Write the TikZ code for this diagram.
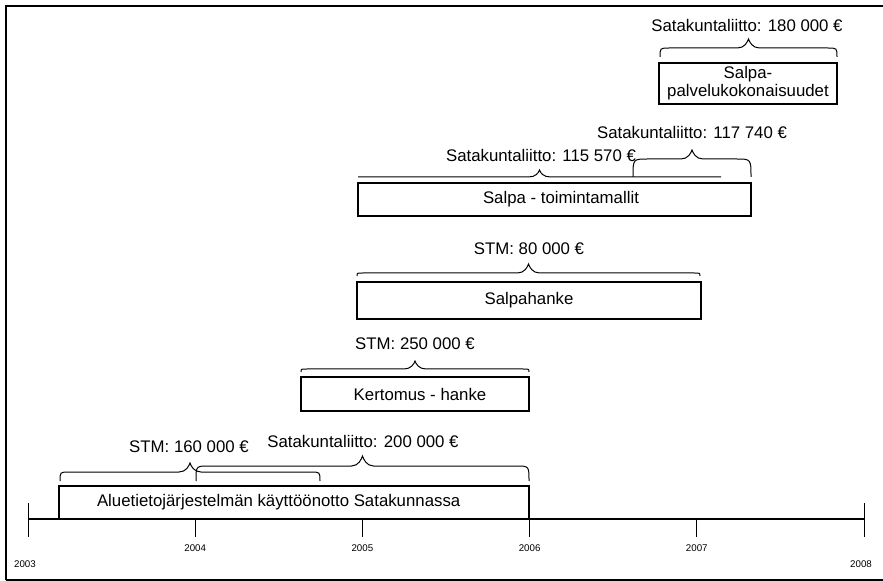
\documentclass[tikz,border=0pt]{standalone}
\usepackage{fontspec}
\setmainfont{Liberation Sans}
% curly brace: x1, x2, y of the ends, y of the bar, y of the tip
\newcommand{\sulkeet}[5]{%
  \pgfmathsetmacro{\sxm}{(#1+#2)/2}%
  \pgfmathsetmacro{\srr}{0.6*(#3-#4)+4}%
  \draw[sulku] (#1,#3) .. controls (#1,#4) .. ({#1+\srr},#4) -- ({\sxm-11},#4)
    .. controls ({\sxm-4},#4) and ({\sxm-1},{#5+3}) .. (\sxm,#5)
    .. controls ({\sxm+1},{#5+3}) and ({\sxm+4},#4) .. ({\sxm+11},#4)
    -- ({#2-\srr},#4) .. controls (#2,#4) .. (#2,#3);}

\begin{document}
\begin{tikzpicture}[x=0.75pt, y=-0.75pt,
  vaihe/.style={draw, line width=1.1pt, inner sep=0pt, align=center, font=\fontsize{12.6}{13.5}\selectfont},
  summa/.style={inner sep=0pt, font=\fontsize{12.6}{14.5}\selectfont},
  vuosi/.style={inner sep=0pt, font=\fontsize{7.3}{9}\selectfont},
  sulku/.style={line width=0.75pt}]
  \useasboundingbox (0,0) rectangle (883,581);

  % Frame
  \draw[line width=1.8pt] (6,580) -- (6,6) -- (890,6);
  \draw[line width=1.8pt] (6,580) -- (890,580);

  % Time axis
  \coordinate (alku) at (28,519);
  \coordinate (loppu) at (864,519);
  \draw[line width=2pt] (alku) -- (loppu);
  \draw[line width=0.75pt] (28,503) -- (28,537);
  \draw[line width=0.75pt] (864,503) -- (864,537);
  \foreach \v [count=\i] in {2004,2005,2006,2007} {
    \draw[line width=0.75pt] ({28+167.2*\i},519) -- ({28+167.2*\i},537);
    \node[vuosi] (v\v) at ({28+167.2*\i},548) {\v};
  }
  \node[vuosi] (v2003) at (25,564) {2003};
  \node[vuosi] (v2008) at (861,564) {2008};

  % Projects
  \node[vaihe, minimum width=352.5pt, minimum height=24.75pt] (alue) at (294,502.5)
    {Aluetietojärjestelmän käyttöönotto Satakunnassa\hspace{23pt}};
  \node[vaihe, minimum width=171pt, minimum height=25.5pt] (kertomus) at (415,394)
    {\hspace{7.5pt}Kertomus - hanke};
  \node[vaihe, minimum width=258pt, minimum height=27.75pt] (salpahanke) at (529,300.5)
    {Salpahanke};
  \node[vaihe, minimum width=294.75pt, minimum height=24.75pt] (toiminta) at (554.5,199.5)
    {\hspace{9.75pt}Salpa - toimintamallit};
  \node[vaihe, minimum width=133.5pt, minimum height=30.75pt] (palvelu) at (748,83.5)
    {Salpa-\\palvelukokonaisuudet};

  % Funding braces
  \sulkeet{60}{320}{481}{472}{463}
  \sulkeet{196}{529}{481}{466}{456}
  \sulkeet{301}{529}{372}{369}{361}
  \sulkeet{357}{700}{276}{273}{264}
  \sulkeet{358}{721}{177}{177}{170}
  \sulkeet{633}{751}{177}{159}{150}
  \sulkeet{660}{837}{57}{48}{39}

  % Funding labels
  \node[summa] (stm160) at (189,447) {STM: 160 000 €};
  \node[summa] (sl200) at (363,441) {Satakuntaliitto: 200 000 €};
  \node[summa] (stm250) at (415,344) {STM: 250 000 €};
  \node[summa] (stm80) at (529,249) {STM: 80 000 €};
  \node[summa] (sl115) at (541,155) {Satakuntaliitto: 115 570 €};
  \node[summa] (sl117) at (692,132) {Satakuntaliitto: 117 740 €};
  \node[summa] (sl180) at (747,25) {Satakuntaliitto: 180 000 €};
\end{tikzpicture}
\end{document}
